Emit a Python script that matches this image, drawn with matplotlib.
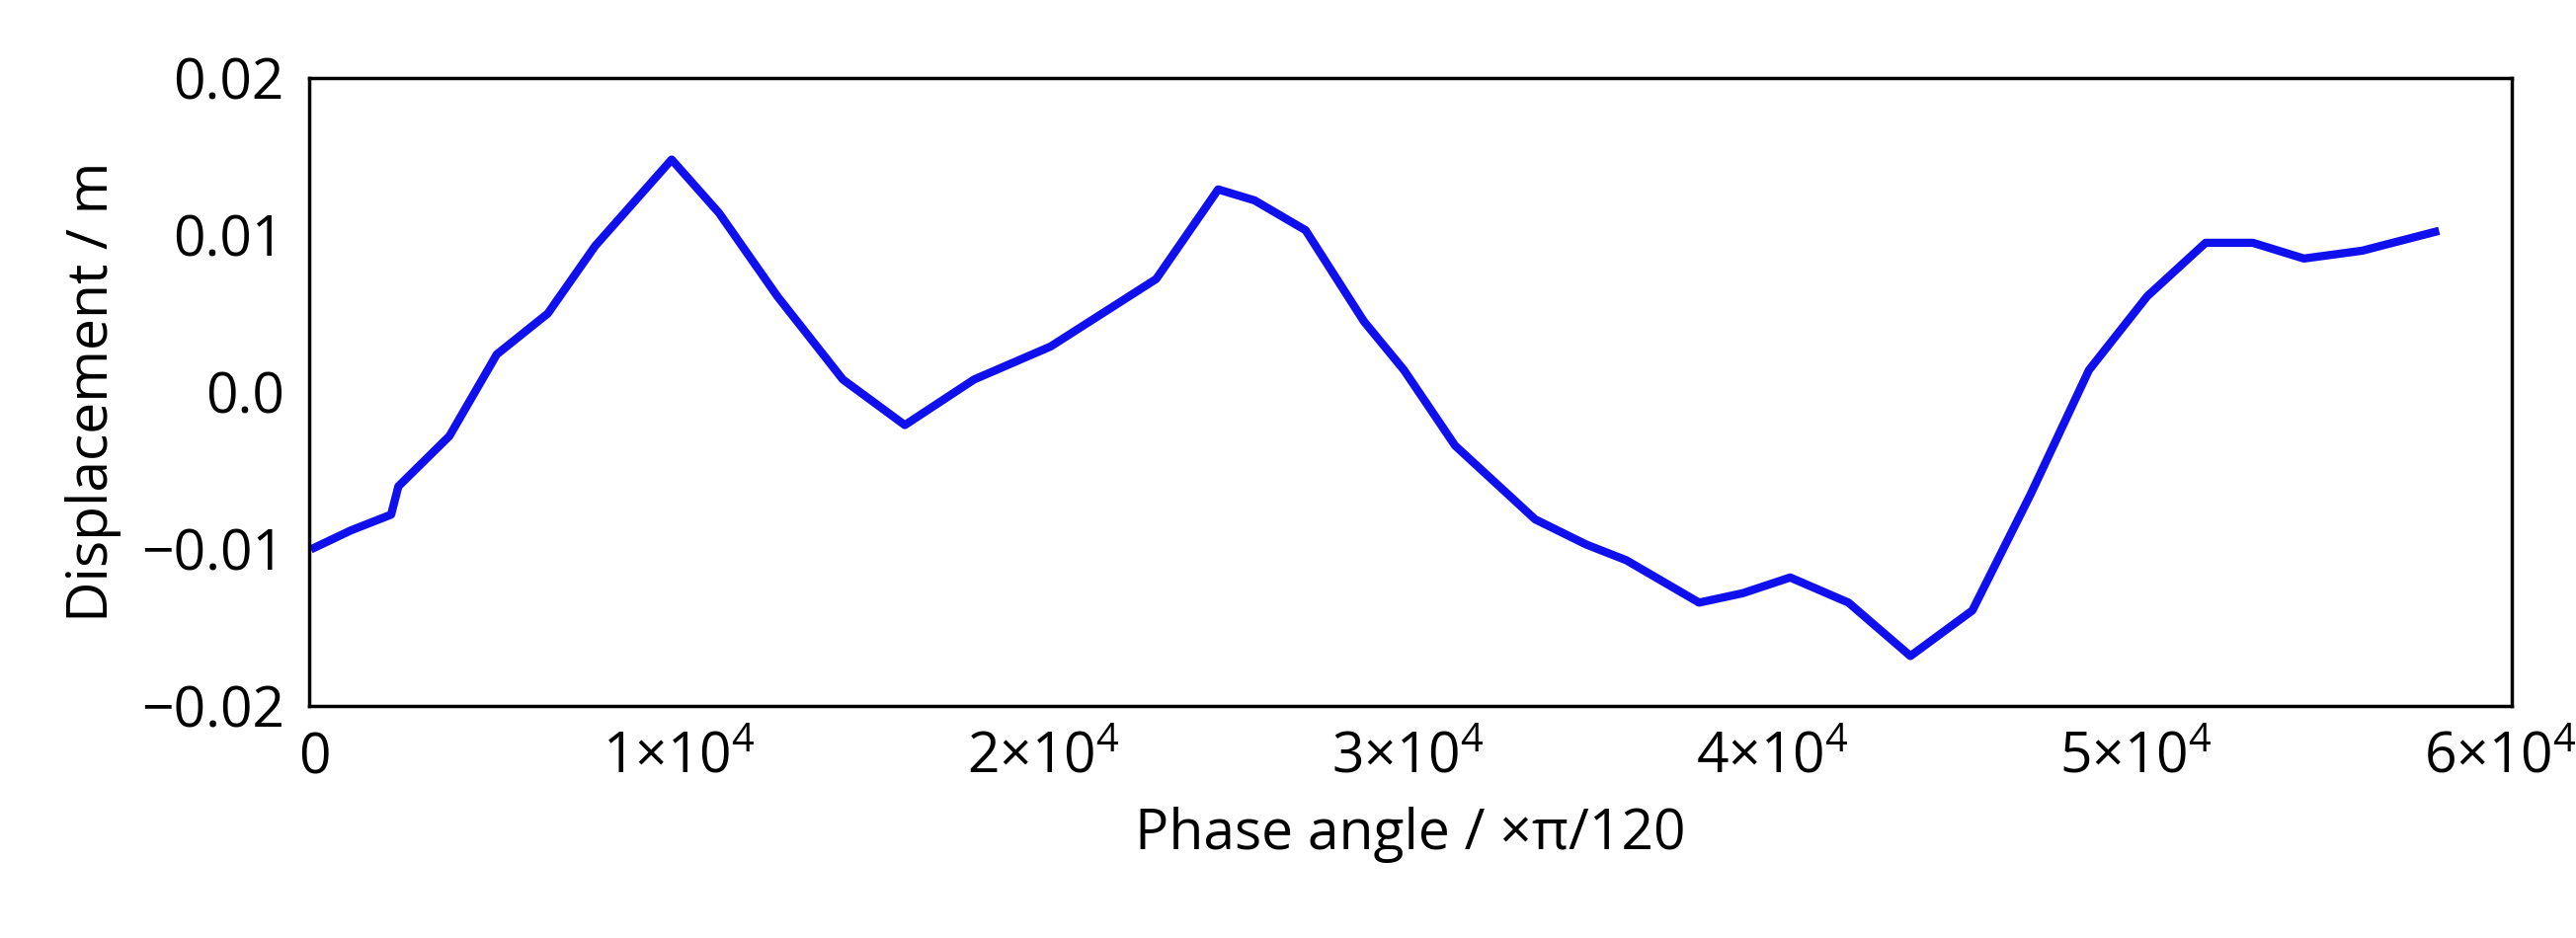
import matplotlib
matplotlib.use("Agg")
import matplotlib.pyplot as plt

phase = [0, 1000, 2100, 2300, 3700, 5000, 6400, 7700, 9800, 11100, 12700, 14500, 16200,
         18100, 20200, 23100, 24800, 25800, 27200, 28800, 29900, 31300, 33500, 34900,
         36000, 38000, 39200, 40500, 42100, 43800, 45500, 47100, 48700, 50300, 51900,
         53200, 54600, 56200, 58200]
disp = [-0.0099, -0.0088, -0.0078, -0.006, -0.0028, 0.0024, 0.005, 0.0093, 0.0148, 0.0114,
        0.0061, 0.0008, -0.0021, 0.0008, 0.0029, 0.0072, 0.0129, 0.0122, 0.0103, 0.0045,
        0.0014, -0.0034, -0.0081, -0.0097, -0.0107, -0.0134, -0.0128, -0.0118, -0.0134,
        -0.0168, -0.0139, -0.0065, 0.0014, 0.0061, 0.0095, 0.0095, 0.0085, 0.009, 0.0102]
xticks = [0, 10000, 20000, 30000, 40000, 50000, 60000]
xlabels = ["0", "1×10$^4$", "2×10$^4$", "3×10$^4$", "4×10$^4$", "5×10$^4$", "6×10$^4$"]
yticks = [-0.02, -0.01, 0.0, 0.01, 0.02]
ylabels = ["\u22120.02", "\u22120.01", "0.0", "0.01", "0.02"]

plt.rcParams['font.family'] = ['Open Sans', 'DejaVu Sans']
plt.rcParams['mathtext.fontset'] = 'custom'
plt.rcParams['mathtext.rm'] = 'Open Sans'
fig = plt.figure(figsize=(26.08, 9.5), dpi=100)
ax = fig.add_axes([0.12, 0.247, 0.855, 0.67])
ax.plot(phase, disp, color='#1010ee', lw=6, solid_joinstyle='round')
ax.set_xlim(-150, 60300)
ax.set_ylim(-0.02, 0.02)
ax.set_xticks(xticks)
ax.set_xticklabels(xlabels, fontsize=41)
ax.set_yticks(yticks)
ax.set_yticklabels(ylabels, fontsize=41)
ax.tick_params(length=0, pad=18)
for s in ax.spines.values():
    s.set_linewidth(2.5)
ax.set_xlabel("Phase angle / ×π/120", fontsize=41, labelpad=14)
ax.set_ylabel("Displacement / m", fontsize=41, labelpad=14)
fig.savefig("out.png")
